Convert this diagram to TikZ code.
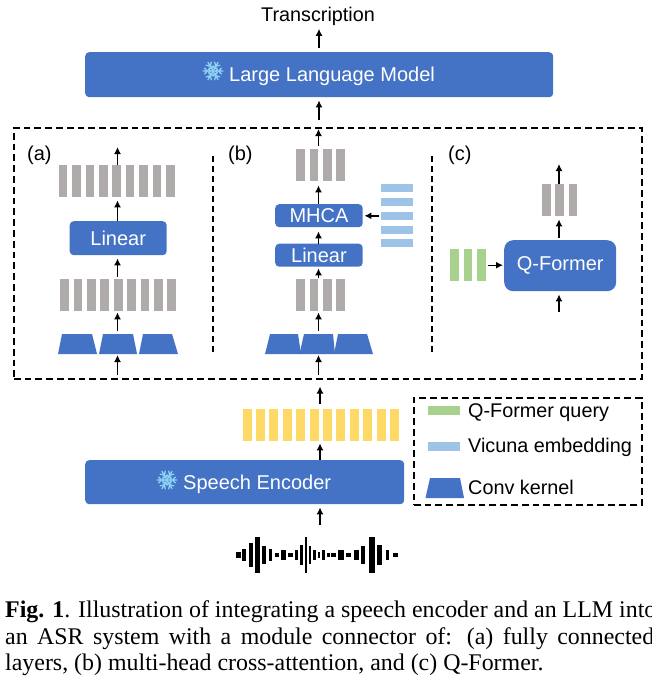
\documentclass[tikz,border=0pt]{standalone}
\usepackage{fontspec}
\setmainfont{Liberation Sans}
\newfontfamily\capfont{Liberation Serif}
\usetikzlibrary{arrows.meta}
\definecolor{cblue}{HTML}{4472C4}
\definecolor{cgrey}{HTML}{AFABAB}
\definecolor{cgreen}{HTML}{A9D18E}
\definecolor{clight}{HTML}{9DC3E6}
\definecolor{cyellow}{HTML}{FFD966}
\definecolor{cflake}{HTML}{8FD3F4}
\newcommand{\fsz}[1]{\fontsize{#1}{#1}\selectfont}
\tikzset{
  box/.style={fill=cblue,rounded corners=#1,inner sep=0pt,text=white,anchor=north west},
  box/.default=4pt,
  bar/.style={inner sep=0pt,anchor=north west,minimum width=8.7pt,minimum height=32pt,fill=#1},
  group/.style={inner sep=0pt,anchor=north west},
  arr/.style={-{Latex[length=7pt,width=7pt]},line width=1.4pt,black},
  dashbox/.style={draw=black,line width=1.5pt,dash pattern=on 6.8pt off 4pt},
  divider/.style={draw=black,line width=1.3pt,dash pattern=on 6pt off 4pt},
  trap/.style={fill=cblue},
  flk/.style={draw=cflake,line width=1.3pt,line cap=round},
  lbl/.style={inner sep=0pt,font=\fsz{20},anchor=base west},
  captxt/.style={inner sep=0pt,anchor=base west,font=\capfont\fsz{23.9}},
}
\newcommand{\snow}[3]{% x y radius
  \foreach \a in {0,60,...,300}{
    \draw[flk,shift={(#1,#2)},rotate=\a] (0,0) -- (#3,0)
      (0.55*#3,0) -- ++(0.3*#3,0.3*#3) (0.55*#3,0) -- ++(0.3*#3,-0.3*#3)
      (0.25*#3,0) -- ++(0.2*#3,0.2*#3) (0.25*#3,0) -- ++(0.2*#3,-0.2*#3);
  }
}
\begin{document}
\begin{tikzpicture}[x=1pt,y=-1pt]
\useasboundingbox (0,0) rectangle (652,680);
\fill[white] (0,0) rectangle (652,680);
% text at top
\node[inner sep=0pt,anchor=base] (trans) at (318,21.5) {\fsz{19.8}Transcription};
% main boxes
\node[box,minimum width=468pt,minimum height=45pt] (llm) at (85,52) {};
\node[anchor=base west,inner sep=0pt,text=white] (llmt) at (229,81) {\fsz{20}Large Language Model};
\snow{213}{71}{10}
\node[box,minimum width=319pt,minimum height=44pt] (enc) at (85,460) {};
\node[anchor=base west,inner sep=0pt,text=white] (enct) at (183,489) {\fsz{20}Speech Encoder};
\snow{167}{480}{10}
% outer dashed
\node[dashbox,anchor=north west,inner sep=0pt,minimum width=628pt,minimum height=251pt] (outer) at (13,127) {};
\draw[divider] (213,156) -- (213,354);
\draw[divider] (432,156) -- (432,354);
\node[lbl] (la) at (27,160) {(a)};
\node[lbl] (lb) at (228,160) {(b)};
\node[lbl] (lc) at (448,160) {(c)};
% (a)
\node[group,minimum width=116pt,minimum height=32pt] (ga) at (58.5,165) {};
\foreach \i in {0,...,8} \node[bar=cgrey] (at\i) at ({58.5+13.4*\i},165) {};
\node[group,minimum width=116pt,minimum height=32pt] (gb) at (60,279) {};
\foreach \i in {0,...,8} \node[bar=cgrey] (ab\i) at ({60+13.4*\i},279) {};
\node[box,minimum width=97pt,minimum height=34pt] (linA) at (69.5,221) {\fsz{20}Linear};
\fill[trap] (58,354) -- (62,334) -- (92,334) -- (97,354) -- cycle;
\fill[trap] (99,354) -- (103,334) -- (133,334) -- (137,354) -- cycle;
\fill[trap] (139,354) -- (143,334) -- (172,334) -- (178,354) -- cycle;
\coordinate (tka) at (117.5,354);
\coordinate (xa) at (117.5,0);
\coordinate (aend) at (117.5,147);
\coordinate (abot) at (117.5,375);
\draw[arr] (ga.north -| xa) -- (aend);
\draw[arr] (linA.north -| xa) -- ([yshift=-3pt]ga.south -| xa);
\draw[arr] (gb.north -| xa) ++(0,-2) -- ([yshift=-3pt]linA.south -| xa);
\coordinate (tkat) at (117.5,331);
\draw[arr] (tkat) -- ([yshift=-1pt]gb.south -| xa);
\draw[arr] (abot) -- ([yshift=-1pt]tka);
% (b)
\node[group,minimum width=49pt,minimum height=32pt] (hb) at (296,149) {};
\foreach \i in {0,...,3} \node[bar=cgrey] (bt\i) at ({296+13.4*\i},149) {};
\node[group,minimum width=49pt,minimum height=32pt] (hc) at (296,279) {};
\foreach \i in {0,...,3} \node[bar=cgrey] (bb\i) at ({296+13.4*\i},279) {};
\node[box,minimum width=87.5pt,minimum height=23pt] (mhca) at (275,204) {\fsz{20}MHCA};
\node[box,minimum width=87.5pt,minimum height=23pt] (linB) at (275,243.5) {\fsz{20}Linear};
\fill[trap] (265,354) -- (270,334) -- (298,334) -- (301,354) -- cycle;
\fill[trap] (299.5,354) -- (304,334) -- (333,334) -- (335,354) -- cycle;
\fill[trap] (334,354) -- (338,334) -- (367,334) -- (373,354) -- cycle;
\coordinate (xb) at (318.5,0);
\coordinate (tkb) at (318.5,354);
\coordinate (tkbt) at (318.5,331);
\coordinate (bbot) at (318.5,375);
\foreach \i in {0,...,4} \node[inner sep=0pt,anchor=north west,minimum width=32.5pt,minimum height=8pt,fill=clight] (emb\i) at (380.5,{184+13.8*\i}) {};
\draw[arr] (hb.north -| xb) ++(0,-3) -- ([yshift=-2pt]outer.north -| xb);
\draw[arr] (mhca.north -| xb) -- ([yshift=-4pt]hb.south -| xb);
\draw[arr] (linB.north -| xb) -- ([yshift=-4pt]mhca.south -| xb);
\draw[arr] (hc.north -| xb) ++(0,-1) -- ([yshift=-1.5pt]linB.south -| xb);
\draw[arr] (tkbt) -- ([yshift=-1pt]hc.south -| xb);
\draw[arr] (bbot) -- ([yshift=-1pt]tkb);
\draw[arr] (emb2.west) ++(-1.5,0) -- ([xshift=1.5pt]mhca.east |- emb2.west);
% top connectors
\coordinate (xt) at (319,0);
\draw[arr] (llm.north -| xt) ++(0,-4) -- ([yshift=-3pt]trans.south -| xt);
\draw[arr] (outer.north -| xt) ++(0,-7) -- ([yshift=-3pt]llm.south -| xt);
% (c)
\node[group,minimum width=35.5pt,minimum height=32pt] (qo) at (541.7,184) {};
\foreach \i in {0,...,2} \node[bar=cgrey] (ct\i) at ({541.7+13.4*\i},184) {};
\node[group,minimum width=35.5pt,minimum height=32pt] (qg) at (450,249) {};
\foreach \i in {0,...,2} \node[bar=cgreen] (cg\i) at ({450+13.4*\i},249) {};
\node[box=9pt,minimum width=112pt,minimum height=51pt] (qf) at (504,240) {\fsz{20}Q-Former};
\coordinate (xc) at (559,0);
\coordinate (cend) at (559,164);
\coordinate (cbot) at (559,312);
\draw[arr] (qo.north -| xc) -- (cend);
\draw[arr] (qf.north -| xc) ++(0,-2) -- ([yshift=-3pt]qo.south -| xc);
\draw[arr] (cbot) -- ([yshift=-3pt]qf.south -| xc);
\draw[arr] (qg.east) ++(2.5,0) -- ([xshift=-1pt]qf.west |- qg.east);
% yellow
\node[group,minimum width=156pt,minimum height=32pt] (gy) at (242.4,409) {};
\foreach \i in {0,...,11} \node[bar=cyellow,minimum width=9pt] (y\i) at ({242.4+13.4*\i},409) {};
\coordinate (xm) at (320,0);
\draw[arr] (gy.north -| xm) ++(0,-5) -- ([yshift=-7pt]outer.south -| xm);
\draw[arr] (enc.north -| xm) -- ([yshift=-2pt]gy.south -| xm);
\coordinate (wtop) at (320,525);
\draw[arr] (wtop) -- ([yshift=-3pt]enc.south -| xm);
% waveform
\foreach \v/\w/\h in {40/15/8,57/11/18,78/12/36,97/13/54,117/13/28,137/9/18,155/13/6,175/13/14,195/15/6,213/9/14,230/9/30,243/8/54,255/8/26,268/7/14,282/8/8,295/8/14,310/11/6,325/13/5,347/17/16,370/15/6,393/15/16,414/13/28,440/17/54,464/15/30,487/11/16,510/15/7}
  \fill[black] ({225+(\v-\w/2)/3},{555-\h/3}) rectangle ({225+(\v+\w/2)/3},{555+\h/3});
% legend
\node[dashbox,anchor=north west,inner sep=0pt,minimum width=228pt,minimum height=107pt] (leg) at (413,397) {};
\fill[cgreen] (427.5,406) rectangle (460,415);
\fill[clight] (427.5,442) rectangle (460,451);
\fill[trap] (425.5,498) -- (430,478) -- (460,478) -- (464,498) -- cycle;
\node[lbl,font=\fsz{19.8}] (l1) at (468,417) {Q-Former query};
\node[lbl,font=\fsz{19.8}] (l2) at (468,452) {Vicuna embedding};
\node[lbl,font=\fsz{19.8}] (l3) at (468,494.5) {Conv kernel};
% caption
\node[captxt] (c1) at (5,617) {\textbf{Fig. 1}. Illustration of integrating a speech encoder and an LLM into};
\node[captxt] (c2) at (5,644) {\makebox[649pt][s]{an ASR system with a module connector of:  (a) fully connected}};
\node[captxt] (c3) at (5,670) {layers, (b) multi-head cross-attention, and (c) Q-Former.};
\end{tikzpicture}
\end{document}
